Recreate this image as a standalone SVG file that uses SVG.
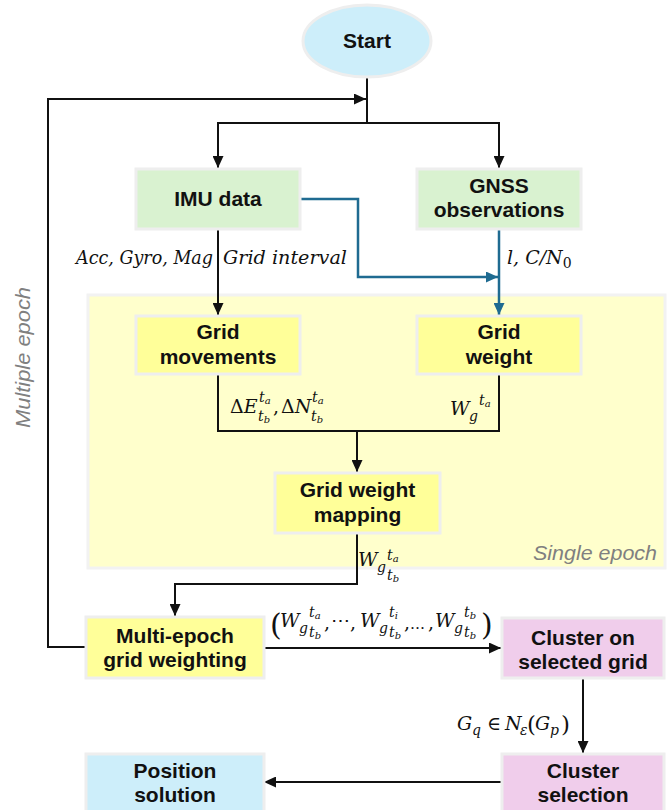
<svg xmlns="http://www.w3.org/2000/svg" width="672" height="810" viewBox="0 0 672 810">
<defs>
<marker id="ah" markerUnits="userSpaceOnUse" markerWidth="12" markerHeight="11" refX="12" refY="5.5" orient="auto"><path d="M0,0 L12,5.5 L0,11 z" fill="#111"/></marker>
<marker id="ahb" markerUnits="userSpaceOnUse" markerWidth="12" markerHeight="11" refX="12" refY="5.5" orient="auto"><path d="M0,0 L12,5.5 L0,11 z" fill="#1f6b91"/></marker>
<style>
.box{stroke:#eeeeee;stroke-width:3}
.green{fill:#d9f2d0}
.yel{fill:#ffff99}
.pink{fill:#f0cdeb}
.blue{fill:#cdeefa}
.t{font-family:"Liberation Sans",Arial,sans-serif;font-weight:bold;font-size:21px;fill:#111;text-anchor:middle}
.c{fill:none;stroke:#111;stroke-width:2}
.cb{fill:none;stroke:#1f6b91;stroke-width:2.5}
.m{font-family:"DejaVu Serif",serif;font-style:italic;font-size:19px;fill:#111}
.sc{font-size:14px}
.ssc{font-size:10px}
.up{font-style:normal}
.note{font-family:"Liberation Sans",Arial,sans-serif;font-style:italic;font-size:20px;fill:#808080}
</style>
</defs>
<rect id="single-epoch-area" x="88" y="295" width="577" height="273" fill="#ffffcc" stroke="#f2f2f2" stroke-width="3"/>
<text class="note" x="533" y="560" textLength="124" lengthAdjust="spacingAndGlyphs">Single epoch</text>
<text class="note" transform="translate(30,428) rotate(-90)" x="0" y="0" textLength="141" lengthAdjust="spacingAndGlyphs">Multiple  epoch</text>

<g id="connectors">
<path class="c" d="M367,77 V123"/>
<path class="c" d="M367,123 H218 V168" marker-end="url(#ah)"/>
<path class="c" d="M367,123 H499 V168" marker-end="url(#ah)"/>
<path class="c" d="M86,647 H48 V99 H366" marker-end="url(#ah)"/>
<path class="c" d="M218,229 V315" marker-end="url(#ah)"/>
<path class="cb" d="M300,199 H358 V277 H498" marker-end="url(#ahb)"/>
<path class="cb" d="M499,229 V315" marker-end="url(#ahb)"/>
<path class="c" d="M218,374 V431 H499 V374"/>
<path class="c" d="M357,431 V472" marker-end="url(#ah)"/>
<path class="c" d="M357,533 V584 H175 V616" marker-end="url(#ah)"/>
<path class="c" d="M264,648 H501" marker-end="url(#ah)"/>
<path class="c" d="M583,678 V753" marker-end="url(#ah)"/>
<path class="c" d="M502,782 H264" marker-end="url(#ah)"/>
</g>

<g id="start">
<ellipse class="box blue" cx="367" cy="41" rx="64" ry="36"/>
<text class="t" x="367" y="48">Start</text>
</g>
<g id="imu-data">
<rect class="box green" x="136" y="169" width="164" height="60"/>
<text class="t" x="218" y="206">IMU data</text>
</g>
<g id="gnss-observations">
<rect class="box green" x="417" y="169" width="164" height="60"/>
<text class="t" x="499" y="193">GNSS</text>
<text class="t" x="499" y="217">observations</text>
</g>
<g id="grid-movements">
<rect class="box yel" x="136" y="316" width="164" height="58"/>
<text class="t" x="218" y="339">Grid</text>
<text class="t" x="218" y="364">movements</text>
</g>
<g id="grid-weight">
<rect class="box yel" x="417" y="316" width="164" height="58"/>
<text class="t" x="499" y="339">Grid</text>
<text class="t" x="499" y="364">weight</text>
</g>
<g id="grid-weight-mapping">
<rect class="box yel" x="275" y="473" width="165" height="60"/>
<text class="t" x="357.5" y="497">Grid weight</text>
<text class="t" x="357.5" y="522">mapping</text>
</g>
<g id="multi-epoch-grid-weighting">
<rect class="box yel" x="86" y="617" width="178" height="61"/>
<text class="t" x="175" y="643">Multi-epoch</text>
<text class="t" x="175" y="667">grid weighting</text>
</g>
<g id="cluster-on-selected-grid">
<rect class="box pink" x="502" y="618" width="162" height="60"/>
<text class="t" x="583" y="645">Cluster on</text>
<text class="t" x="583" y="669">selected grid</text>
</g>
<g id="cluster-selection">
<rect class="box pink" x="502" y="754" width="162" height="60"/>
<text class="t" x="583" y="778">Cluster</text>
<text class="t" x="583" y="802">selection</text>
</g>
<g id="position-solution">
<rect class="box blue" x="86" y="754" width="178" height="60"/>
<text class="t" x="175" y="778">Position</text>
<text class="t" x="175" y="802">solution</text>
</g>

<g id="labels">
<text class="m" x="76" y="264" textLength="137" lengthAdjust="spacingAndGlyphs">Acc, Gyro, Mag</text>
<text class="m" x="223" y="264" textLength="124" lengthAdjust="spacingAndGlyphs">Grid interval</text>
<text class="m" x="507" y="264">l, C/N<tspan class="sc up" dy="4">0</tspan></text>

<text class="m"><tspan class="up" x="230" y="413">Δ</tspan><tspan>E</tspan><tspan class="sc" x="259" y="402">t</tspan><tspan class="ssc" dy="2">a</tspan><tspan class="sc" x="258" y="421">t</tspan><tspan class="ssc" dy="2">b</tspan><tspan class="up" x="273" y="413">,</tspan><tspan class="up" x="281">Δ</tspan><tspan>N</tspan><tspan class="sc" x="312" y="402">t</tspan><tspan class="ssc" dy="2">a</tspan><tspan class="sc" x="311" y="421">t</tspan><tspan class="ssc" dy="2">b</tspan></text>

<text class="m"><tspan x="450" y="415">W</tspan><tspan class="sc" x="469" y="421">g</tspan><tspan class="sc" x="479" y="405">t</tspan><tspan class="ssc" dy="2">a</tspan></text>

<text class="m"><tspan x="358" y="566">W</tspan><tspan class="sc" x="377" y="572">g</tspan><tspan class="sc" x="387" y="560">t</tspan><tspan class="ssc" dy="2">a</tspan><tspan class="sc" x="387" y="580">t</tspan><tspan class="ssc" dy="2">b</tspan></text>

<text class="m"><tspan class="up" x="270" y="635" font-size="30">(</tspan><tspan x="280" y="627">W</tspan><tspan class="sc" x="299" y="633">g</tspan><tspan class="sc" x="309" y="617">t</tspan><tspan class="ssc" dy="2">a</tspan><tspan class="sc" x="309" y="637">t</tspan><tspan class="ssc" dy="2">b</tspan><tspan class="up" x="324" y="629">,</tspan><tspan class="up" x="331" y="627">⋯</tspan><tspan class="up" x="350" y="629">,</tspan><tspan x="360" y="627">W</tspan><tspan class="sc" x="379" y="633">g</tspan><tspan class="sc" x="389" y="617">t</tspan><tspan class="ssc" dy="2">i</tspan><tspan class="sc" x="389" y="637">t</tspan><tspan class="ssc" dy="2">b</tspan><tspan class="up" x="404" y="629">,</tspan><tspan class="up" x="410" y="629" font-size="15">…</tspan><tspan class="up" x="428" y="629">,</tspan><tspan x="435" y="627">W</tspan><tspan class="sc" x="454" y="633">g</tspan><tspan class="sc" x="464" y="617">t</tspan><tspan class="ssc" dy="2">b</tspan><tspan class="sc" x="464" y="637">t</tspan><tspan class="ssc" dy="2">b</tspan><tspan class="up" x="481" y="635" font-size="30">)</tspan></text>

<text class="m"><tspan x="457" y="730">G</tspan><tspan class="sc" x="472" y="735">q</tspan><tspan class="up" x="487" y="730">∈</tspan><tspan x="505" y="730">N</tspan><tspan class="sc" x="520" y="735">ε</tspan><tspan class="up" x="527" y="732" font-size="23">(</tspan><tspan x="535" y="730">G</tspan><tspan class="sc" x="550" y="735">p</tspan><tspan class="up" x="561" y="732" font-size="23">)</tspan></text>
</g>
</svg>
